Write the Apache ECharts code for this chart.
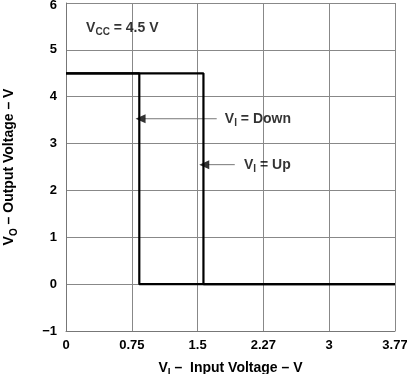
<!DOCTYPE html>
<html><head><meta charset="utf-8">
<script src="https://cdn.jsdelivr.net/npm/echarts@6/dist/echarts.min.js"></script>
<style>html,body{margin:0;padding:0;background:#fff}#c{width:407px;height:374px}</style>
</head><body><div id="c"></div>
<script>
// Data
var xTickLabels = ['0', '0.75', '1.5', '2.27', '3', '3.77'];
var yTickLabels = ['\u22121', '0', '1', '2', '3', '4', '5', '6'];
var xMax = 3.77;
var vccHigh = 4.5;
var thresholdUp = 1.575;   // V_I rising threshold
var thresholdDown = 0.84;  // V_I falling threshold
var curveUp = [[0, vccHigh], [thresholdUp, vccHigh], [thresholdUp, 0], [xMax, 0]];
var curveDown = [[xMax, 0], [thresholdDown, 0], [thresholdDown, vccHigh], [0, vccHigh]];
var arrowDown = [[1.727, 3.53], [0.90, 3.53]];
var arrowUp = [[1.934, 2.55], [1.63, 2.55]];
var arrowHeads = [[0.90, 3.53], [1.63, 2.55]];
var notes = [
  {pos: [0.23, 5.47], text: '{m|V}{s|CC}{m| = 4.5 V}'},
  {pos: [1.82, 3.53], text: '{m|V}{s|I}{m| = Down}'},
  {pos: [2.04, 2.55], text: '{m|V}{s|I}{m| = Up}'}
];

var FONT = 'Liberation Sans, Arial, sans-serif';
var rich = {
  m: {fontFamily: FONT, fontWeight: 'bold', fontSize: 14, color: '#000'},
  s: {fontFamily: FONT, fontWeight: 'bold', fontSize: 10, color: '#000', padding: [9, 0, 0, 0]}
};
var chart = echarts.init(document.getElementById('c'), null, {renderer: 'canvas'});
var step = xMax / 5;
var curveStyle = {color: '#000', width: 2.2};
var arrowStyle = {color: '#777', width: 1};
var tickFont = {fontFamily: FONT, fontWeight: 'bold', fontSize: 13, color: '#000'};
chart.setOption({
  animation: false,
  grid: {left: 66, right: 12, top: 3, bottom: 43, containLabel: false, outerBoundsMode: 'none'},
  xAxis: {
    type: 'value', min: 0, max: xMax, interval: step,
    axisLine: {show: true, onZero: false, lineStyle: {color: '#777', width: 1}},
    axisTick: {show: false},
    splitLine: {show: true, lineStyle: {color: '#888', width: 1}},
    axisLabel: {
      fontFamily: FONT, fontWeight: 'bold', fontSize: 13, color: '#000', margin: 8,
      formatter: function (v) { return xTickLabels[Math.round(v / step)]; }
    },
    name: '{m|V}{s|I}{m| \u2013  Input Voltage \u2013 V}',
    nameLocation: 'middle', nameGap: 28,
    nameTextStyle: {rich: rich}
  },
  yAxis: {
    type: 'value', min: -1, max: 6, interval: 1,
    axisLine: {show: true, onZero: false, lineStyle: {color: '#777', width: 1}},
    axisTick: {show: false},
    splitLine: {show: true, lineStyle: {color: '#888', width: 1}},
    axisLabel: {
      fontFamily: FONT, fontWeight: 'bold', fontSize: 13, color: '#000', margin: 9,
      rich: {t: Object.assign({padding: [4, 0, 0, 0]}, tickFont)},
      formatter: function (v) {
        var i = Math.round(v + 1);
        return i === yTickLabels.length - 1 ? '{t|' + yTickLabels[i] + '}' : yTickLabels[i];
      }
    },
    name: '{m|V}{s|O}{m| \u2013 Output Voltage \u2013 V}',
    nameLocation: 'middle', nameGap: 47, nameRotate: 90,
    nameTextStyle: {rich: rich}
  },
  series: [
    {type: 'line', data: curveUp, symbol: 'none', lineStyle: curveStyle, z: 5},
    {type: 'line', data: curveDown, symbol: 'none', lineStyle: curveStyle, z: 5},
    {type: 'line', data: arrowDown, symbol: 'none', lineStyle: arrowStyle, z: 4},
    {type: 'line', data: arrowUp, symbol: 'none', lineStyle: arrowStyle, z: 4},
    {type: 'scatter', data: arrowHeads, symbol: 'triangle', symbolRotate: 90, symbolSize: [9, 10],
      symbolOffset: [-4, 0], itemStyle: {color: '#000'}, z: 6},
    {type: 'scatter', symbolSize: 0, z: 6,
      data: notes.map(function (n) { return {value: n.pos, label: {formatter: n.text}}; }),
      label: {show: true, position: 'right', distance: 0, rich: rich}}
  ]
});
</script></body></html>
